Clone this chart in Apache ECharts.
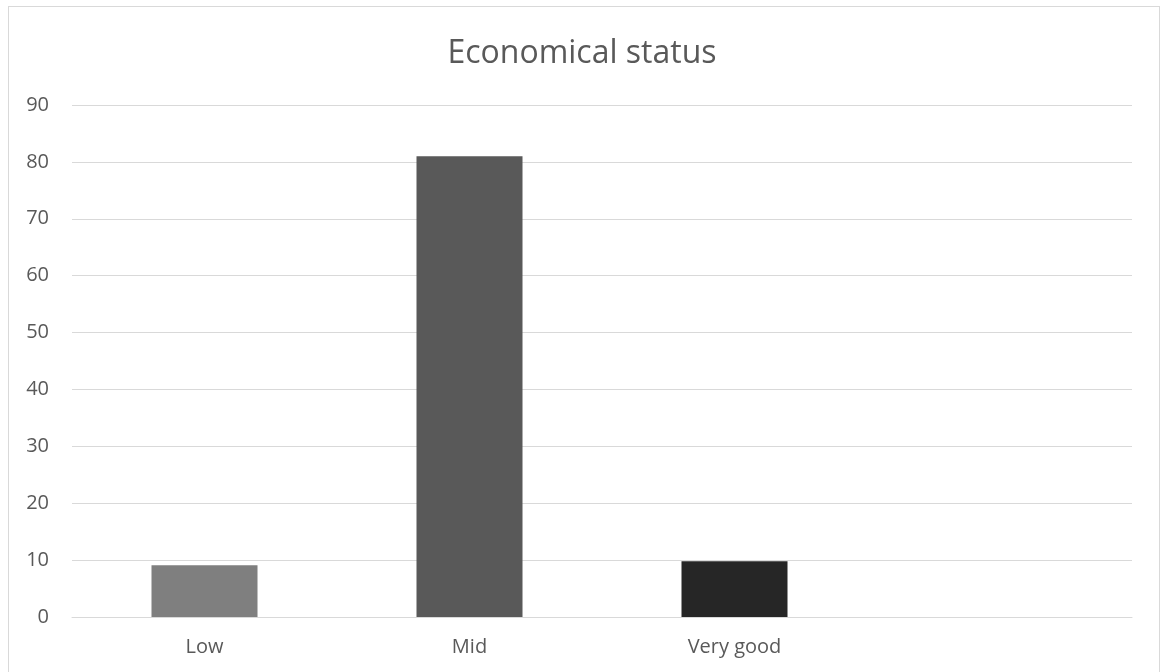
<!DOCTYPE html>
<html>
<head>
<meta charset="utf-8">
<script src="https://cdn.jsdelivr.net/npm/echarts@6/dist/echarts.min.js"></script>
<style>
  html, body { margin: 0; padding: 0; background: #fff; overflow: hidden; }
  #frame { position: absolute; left: 8px; top: 6px; width: 1152px; height: 680px; border: 1px solid #d9d9d9; box-sizing: border-box; }
  #chart { position: absolute; left: 0; top: 0; width: 1164px; height: 672px; }
</style>
</head>
<body>
<div id="frame"></div>
<div id="chart"></div>
<script>
// categories (4th slot is empty in the original)
const categories = ['Low', 'Mid', 'Very good', ''];
const values = [9.1, 81.0, 9.8, null];
const barColors = ['#7f7f7f', '#595959', '#262626'];
const yTicks = { min: 0, max: 90, interval: 10 };

const chart = echarts.init(document.getElementById('chart'));

const option = {
	animation: false,
	title: {
		text: 'Economical status',
		left: 'center',
		top: 33,
		textStyle: {
			fontFamily: 'Open Sans',
			fontSize: 32,
			fontWeight: 'normal',
			color: '#595959'
		}
	},
	grid: {
		left: 72,
		right: 32,
		top: 105,
		bottom: 55,
		containLabel: false
	},
	xAxis: {
		type: 'category',
		data: categories,
		axisLine: { show: true, lineStyle: { color: '#d9d9d9', width: 1 } },
		axisTick: { show: false },
		axisLabel: {
			color: '#595959',
			fontFamily: 'Open Sans',
			fontSize: 20,
			margin: 20
		}
	},
	yAxis: {
		type: 'value',
		min: yTicks.min,
		max: yTicks.max,
		interval: yTicks.interval,
		axisLine: { show: false },
		axisTick: { show: false },
		splitLine: { lineStyle: { color: '#d9d9d9', width: 1 } },
		axisLabel: {
			color: '#595959',
			fontFamily: 'Open Sans',
			fontSize: 20,
			margin: 23
		}
	},
	series: [
		{
			type: 'bar',
			data: values.map((v, i) => ({
				value: v,
				itemStyle: { color: barColors[i] }
			})),
			barWidth: '40%'
		}
	]
};

chart.setOption(option);
</script>
</body>
</html>
